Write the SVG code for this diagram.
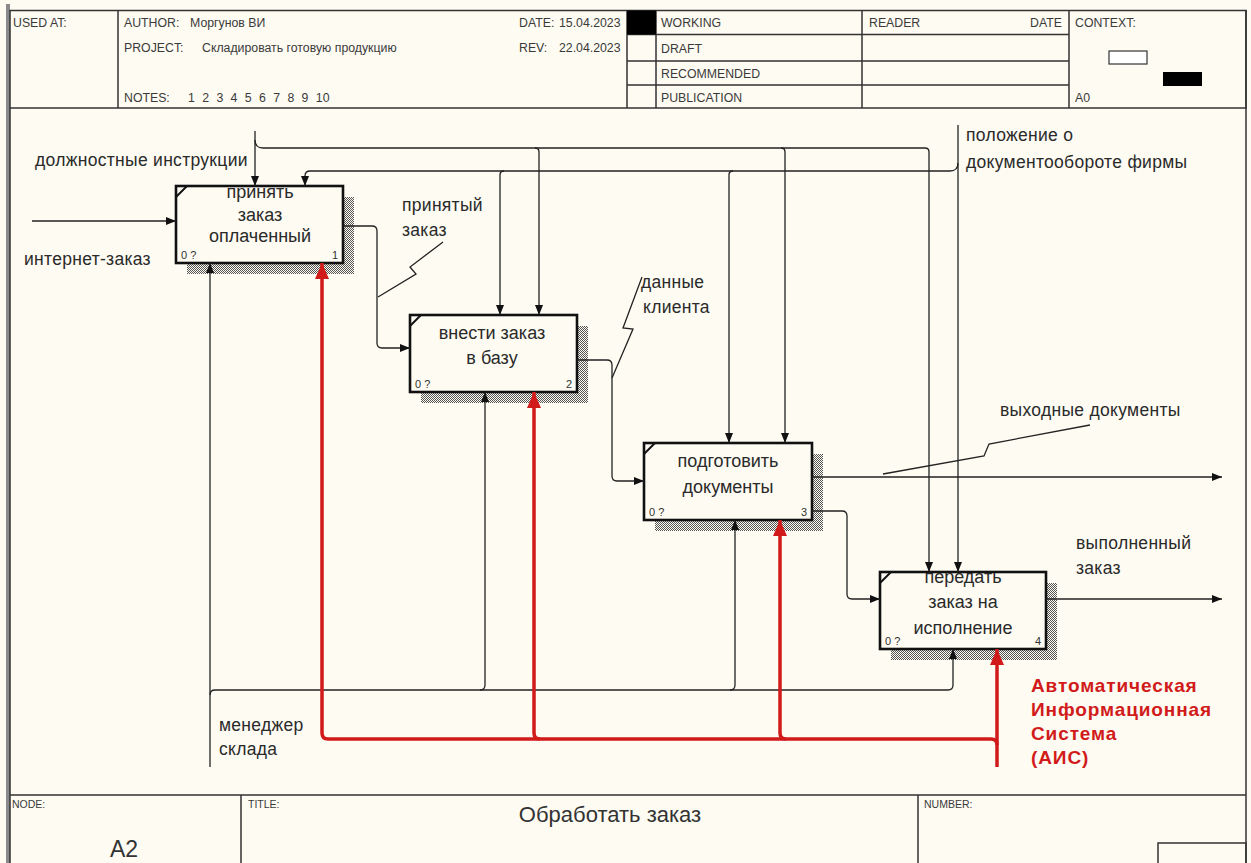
<svg xmlns="http://www.w3.org/2000/svg" width="1251" height="863" viewBox="0 0 1251 863">
<style>
.fr{stroke:#333;stroke-width:1.5;fill:none}
.hd{font-family:"Liberation Sans",Arial,sans-serif;font-size:12.3px;fill:#3a3a3a}
.ft{font-family:"Liberation Sans",Arial,sans-serif;font-size:10.5px;fill:#3a3a3a}
.lbl{font-family:"Liberation Sans",Arial,sans-serif;font-size:17.5px;letter-spacing:0.3px;fill:#2a2a2a}
.box{fill:#fdfbf2;stroke:#111;stroke-width:2.6}
.sh{fill:url(#hatch)}
.bt{font-family:"Liberation Sans",Arial,sans-serif;font-size:18px;fill:#2a2a2a;text-anchor:middle}
.num{font-family:"Liberation Sans",Arial,sans-serif;font-size:11px;fill:#333}
.c{stroke:#222;stroke-width:1.3;fill:none}
.r{stroke:#d11a1a;stroke-width:3.5;fill:none}
.ais{font-family:"Liberation Sans",Arial,sans-serif;font-size:19px;letter-spacing:0.9px;font-weight:bold;fill:#d11a1a}
</style>
<defs>
<pattern id="hatch" width="2" height="2" patternUnits="userSpaceOnUse">
<rect width="2" height="2" fill="#fdfbf2"/>
<rect width="1" height="1" fill="#555"/>
<rect x="1" y="1" width="1" height="1" fill="#555"/>
</pattern>
<marker id="ah" markerUnits="userSpaceOnUse" markerWidth="11" markerHeight="8" refX="10" refY="4" orient="auto"><path d="M0,0 L10,4 L0,8 z" fill="#111"/></marker>
<marker id="ahr" markerUnits="userSpaceOnUse" markerWidth="17" markerHeight="14" refX="16" refY="7" orient="auto"><path d="M0,0 L16,7 L0,14 z" fill="#d11a1a"/></marker>
</defs>

<!-- sheet background and form frame -->
<g id="frame">
<rect x="0" y="0" width="1251" height="863" fill="#fdfbf2"/>
<rect x="6" y="4" width="4" height="859" fill="#8a8a8a"/>
<rect class="fr" x="10" y="10.5" width="1236" height="97.5"/>
<path class="fr" d="M118,10.5 V108 M627,10.5 V108 M656,10.5 V108 M862,10.5 V108 M1069,10.5 V108 M627,34.5 H1069 M627,61 H1069 M627,85 H1069"/>
<rect x="627" y="10.5" width="29" height="24" fill="#000"/>
<path class="fr" d="M10,108 V863 M1246,10 V863 M10,795 H1246 M241,795 V863 M918,795 V863"/>
<rect class="fr" x="1158" y="843" width="88" height="22"/>
<rect x="1109" y="51" width="38" height="13" fill="#fff" stroke="#333" stroke-width="1.2"/>
<rect x="1163" y="72" width="39" height="14" fill="#000"/>
<text class="hd" x="13" y="27" font-size="12.8">USED AT:</text>
<text class="hd" x="124" y="27">AUTHOR:</text>
<text class="hd" x="190" y="27">Моргунов ВИ</text>
<text class="hd" x="124" y="52">PROJECT:</text>
<text class="hd" x="202" y="52" font-size="13.2">Складировать готовую продукцию</text>
<text class="hd" x="124" y="102">NOTES:</text>
<text class="hd" y="102"><tspan x="188">1</tspan><tspan x="202.2">2</tspan><tspan x="216.4">3</tspan><tspan x="230.6">4</tspan><tspan x="244.8">5</tspan><tspan x="259">6</tspan><tspan x="273.2">7</tspan><tspan x="287.4">8</tspan><tspan x="301.6">9</tspan><tspan x="315.8">10</tspan></text>
<text class="hd" x="519" y="27">DATE:</text>
<text class="hd" x="559" y="27">15.04.2023</text>
<text class="hd" x="519" y="52">REV:</text>
<text class="hd" x="559" y="52">22.04.2023</text>
<text class="hd" x="661" y="27">WORKING</text>
<text class="hd" x="661" y="53">DRAFT</text>
<text class="hd" x="661" y="78">RECOMMENDED</text>
<text class="hd" x="661" y="102">PUBLICATION</text>
<text class="hd" x="869" y="27" font-size="13">READER</text>
<text class="hd" x="1062" y="27" text-anchor="end" font-size="13">DATE</text>
<text class="hd" x="1075" y="27" font-size="13.5">CONTEXT:</text>
<text class="hd" x="1075" y="102">A0</text>
<text class="ft" x="12" y="808">NODE:</text>
<text class="ft" x="248" y="808">TITLE:</text>
<text class="ft" x="924" y="808">NUMBER:</text>
<text x="610" y="822" text-anchor="middle" font-family="'Liberation Sans',Arial,sans-serif" font-size="22" fill="#333">Обработать заказ</text>
<text x="110" y="857" font-family="'Liberation Sans',Arial,sans-serif" font-size="23" fill="#333">A2</text>
</g>

<!-- activity boxes -->
<g id="node-1">
<rect class="sh" x="187" y="197" width="167" height="77"/>
<rect class="box" x="176" y="186" width="167" height="77"/>
<path d="M176,197 L187,186" stroke="#111" stroke-width="2"/>
<text class="bt" x="260" y="198" font-size="13.5">принять</text>
<text class="bt" x="260" y="221" font-size="13.5">заказ</text>
<text class="bt" x="260" y="242" font-size="13.5">оплаченный</text>
<text class="num" x="181" y="259">0 ?</text>
<text class="num" x="338" y="259" text-anchor="end">1</text>
</g>
<g id="node-2">
<rect class="sh" x="421" y="326" width="167" height="77"/>
<rect class="box" x="410" y="315" width="167" height="77"/>
<path d="M410,326 L421,315" stroke="#111" stroke-width="2"/>
<text class="bt" x="492" y="339">внести заказ</text>
<text class="bt" x="492" y="364">в базу</text>
<text class="num" x="415" y="388">0 ?</text>
<text class="num" x="572" y="388" text-anchor="end">2</text>
</g>
<g id="node-3">
<rect class="sh" x="655" y="454" width="168" height="77"/>
<rect class="box" x="644" y="443" width="168" height="77"/>
<path d="M644,454 L655,443" stroke="#111" stroke-width="2"/>
<text class="bt" x="728" y="467">подготовить</text>
<text class="bt" x="728" y="493">документы</text>
<text class="num" x="649" y="516">0 ?</text>
<text class="num" x="807" y="516" text-anchor="end">3</text>
</g>
<g id="node-4">
<rect class="sh" x="891" y="583" width="166" height="77"/>
<rect class="box" x="880" y="572" width="166" height="77"/>
<path d="M880,583 L891,572" stroke="#111" stroke-width="2"/>
<text class="bt" x="963" y="583">передать</text>
<text class="bt" x="963" y="608">заказ на</text>
<text class="bt" x="963" y="634">исполнение</text>
<text class="num" x="885" y="645">0 ?</text>
<text class="num" x="1041" y="645" text-anchor="end">4</text>
</g>

<!-- arrows between boxes and boundary -->
<g id="connectors">
<path class="c" marker-end="url(#ah)" d="M32,221 H176"/>
<path class="c" marker-end="url(#ah)" d="M255,131 V186"/>
<path class="c" marker-end="url(#ah)" d="M255,140 Q255,148 263,148 H925 Q929,148 929,152 V572"/>
<path class="c" marker-end="url(#ah)" d="M535,148 Q539,148 539,152 V315"/>
<path class="c" marker-end="url(#ah)" d="M781,148 Q785,148 785,152 V443"/>
<path class="c" marker-end="url(#ah)" d="M958,125 V572"/>
<path class="c" marker-end="url(#ah)" d="M958,163 Q958,171 950,171 H310 Q305,171 305,176 V186"/>
<path class="c" marker-end="url(#ah)" d="M504,171 Q500,171 500,175 V315"/>
<path class="c" marker-end="url(#ah)" d="M733,171 Q729,171 729,175 V443"/>
<path class="c" marker-end="url(#ah)" d="M343,226 H372 Q377,226 377,231 V343 Q377,348 382,348 H410"/>
<path class="c" marker-end="url(#ah)" d="M577,360 H607 Q612,360 612,365 V476 Q612,481 617,481 H644"/>
<path class="c" marker-end="url(#ah)" d="M812,477 H1222"/>
<path class="c" marker-end="url(#ah)" d="M812,511 H842 Q847,511 847,516 V594 Q847,599 852,599 H880"/>
<path class="c" marker-end="url(#ah)" d="M1046,599 H1222"/>
<path class="c" marker-end="url(#ah)" d="M210,767 V263"/>
<path class="c" marker-end="url(#ah)" d="M210,695 Q210,690 215,690 H948 Q953,690 953,685 V649"/>
<path class="c" marker-end="url(#ah)" d="M480,690 Q485,690 485,685 V392"/>
<path class="c" marker-end="url(#ah)" d="M730,690 Q735,690 735,685 V520"/>
<path class="r" marker-end="url(#ahr)" d="M997,767 V649"/>
<path class="r" marker-end="url(#ahr)" d="M997,745 Q997,739 991,739 H328 Q322,739 322,733 V263"/>
<path class="r" marker-end="url(#ahr)" d="M540,739 Q534,739 534,733 V392"/>
<path class="r" marker-end="url(#ahr)" d="M786,739 Q780,739 780,733 V520"/>
<path class="c" d="M378,297 L416,274 L410,267 L443,242"/>
<path class="c" d="M612,378 L633,329 L623,328 L642,277"/>
<path class="c" d="M883,474 L984,456 L989,444 L1090,425"/>
</g>

<!-- arrow labels -->
<g id="labels">
<text class="lbl" x="35" y="166">должностные инструкции</text>
<text class="lbl" x="24" y="265">интернет-заказ</text>
<text class="lbl" x="402" y="211">принятый</text>
<text class="lbl" x="402" y="236">заказ</text>
<text class="lbl" x="641" y="288">данные</text>
<text class="lbl" x="643" y="313">клиента</text>
<text class="lbl" x="966" y="141">положение о</text>
<text class="lbl" x="966" y="168">документообороте фирмы</text>
<text class="lbl" x="1000" y="416">выходные документы</text>
<text class="lbl" x="1076" y="549">выполненный</text>
<text class="lbl" x="1076" y="574">заказ</text>
<text class="lbl" x="219" y="731">менеджер</text>
<text class="lbl" x="219" y="755">склада</text>
<text class="ais" x="1031" y="692">Автоматическая</text>
<text class="ais" x="1031" y="716">Информационная</text>
<text class="ais" x="1031" y="740">Система</text>
<text class="ais" x="1031" y="764">(АИС)</text>
</g>
</svg>
